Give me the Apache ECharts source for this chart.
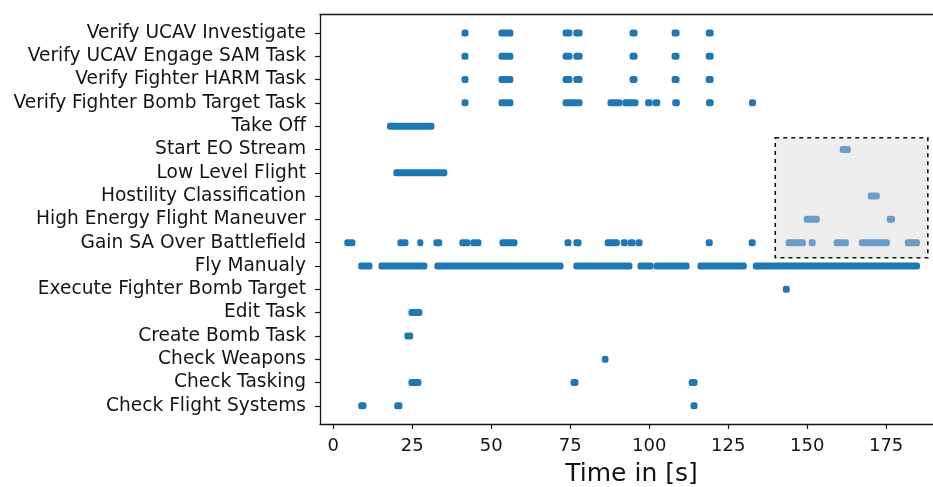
<!DOCTYPE html>
<html>
<head>
<meta charset="utf-8">
<script src="https://cdn.jsdelivr.net/npm/echarts@6/dist/echarts.min.js"></script>
<style>html,body{margin:0;padding:0;background:#fff;}#c{width:933px;height:487px;}</style>
</head>
<body>
<div id="c"></div>
<script>
// Categories, bottom (index 0) to top (index 16)
var categories = [
  'Check Flight Systems',
  'Check Tasking',
  'Check Weapons',
  'Create Bomb Task',
  'Edit Task',
  'Execute Fighter Bomb Target',
  'Fly Manualy',
  'Gain SA Over Battlefield',
  'High Energy Flight Maneuver',
  'Hostility Classification',
  'Low Level Flight',
  'Start EO Stream',
  'Take Off',
  'Verify Fighter Bomb Target Task',
  'Verify Fighter HARM Task',
  'Verify UCAV Engage SAM Task',
  'Verify UCAV Investigate'
];

// Activity intervals per category: [start, end] in seconds
var checkFlightSystems = [[7.9,10.5],[19.3,21.9],[113.1,115.3]];
var checkTasking = [[23.8,27.9],[75.1,77.6],[112.5,115.3]];
var checkWeapons = [[85.0,87.1]];
var createBombTask = [[22.5,25.3]];
var editTask = [[23.8,28.2]];
var executeFighterBombTarget = [[142.3,144.5]];
var flyManualy = [[7.9,12.4],[14.3,29.8],[32.0,72.9],[76.0,94.7],[96.3,101.4],[101.4,112.8],[115.3,130.9],[132.8,185.7]];
var gainSA = [[3.5,7.0],[20.3,23.8],[26.6,28.5],[31.7,34.5],[39.9,43.4],[43.4,46.9],[52.6,58.3],[73.2,75.4],[76.0,78.6],[85.9,90.7],[91.0,93.2],[93.2,95.7],[95.7,97.9],[117.9,120.1],[131.5,133.7],[143.2,149.6],[150.5,152.7],[158.4,163.2],[166.4,176.2],[180.9,185.7]];
var highEnergy = [[148.9,154.0],[175.2,177.8]];
var hostility = [[169.2,173.0]];
var lowLevelFlight = [[19.0,36.1]];
var startEOStream = [[160.3,163.8]];
var takeOff = [[17.0,32.0]];
var verifyFighterBomb = [[40.6,42.8],[52.3,57.0],[72.6,78.9],[86.8,91.5],[91.5,96.6],[98.7,101.1],[101.1,103.5],[107.3,109.7],[118.0,120.4],[131.6,133.8]];
var verifyFighterHARM = [[40.6,42.8],[52.3,57.0],[72.6,75.7],[76.0,78.9],[93.8,96.3],[107.1,109.6],[117.9,120.4]];
var verifyUCAVEngage = [[40.6,42.8],[52.3,57.0],[72.6,75.7],[76.0,78.9],[93.8,96.3],[107.1,109.6],[117.9,120.4]];
var verifyUCAVInvestigate = [[40.6,42.8],[52.3,57.0],[72.6,75.7],[76.0,78.9],[93.8,96.3],[107.1,109.6],[117.9,120.4]];

var rows = [checkFlightSystems, checkTasking, checkWeapons, createBombTask, editTask,
  executeFighterBombTarget, flyManualy, gainSA, highEnergy, hostility, lowLevelFlight,
  startEOStream, takeOff, verifyFighterBomb, verifyFighterHARM, verifyUCAVEngage, verifyUCAVInvestigate];

var xTicks = [0, 25, 50, 75, 100, 125, 150, 175];
// highlighted region: [xStart, xEnd, yBottom, yTop]
var highlightBox = [139.9, 188.2, 6.35, 11.5];

var barData = [];
rows.forEach(function (list, r) {
  list.forEach(function (iv) { barData.push([r, iv[0], iv[1]]); });
});

var yTicks = categories.map(function (c, i) { return i; });
var axisColor = '#151515';

var chart = echarts.init(document.getElementById('c'), null, {renderer: 'canvas'});
chart.setOption({
  animation: false,
  grid: {left: 320, right: -10, top: 14.5, bottom: 63, show: false, containLabel: false, outerBoundsMode: 'none'},
  xAxis: [{
    type: 'value', min: -4.2, max: 193, position: 'bottom',
    axisLine: {show: true, onZero: false, lineStyle: {color: axisColor, width: 1.3}},
    axisTick: {show: true, customValues: xTicks, length: 5, inside: false, lineStyle: {color: axisColor, width: 1.2}},
    axisLabel: {customValues: xTicks, color: axisColor, fontSize: 18, fontFamily: 'DejaVu Sans', margin: 13},
    splitLine: {show: false},
    name: 'Time in [s]', nameLocation: 'middle', nameGap: 38,
    nameTextStyle: {fontSize: 25, color: axisColor, fontFamily: 'DejaVu Sans'}
  }, {
    type: 'value', min: -4.2, max: 193, position: 'top',
    axisLine: {show: true, onZero: false, lineStyle: {color: axisColor, width: 1.3}},
    axisTick: {show: false}, axisLabel: {show: false}, splitLine: {show: false}
  }],
  yAxis: {
    type: 'value', min: -0.78, max: 16.79, position: 'left',
    axisLine: {show: true, onZero: false, lineStyle: {color: axisColor, width: 1.3}},
    axisTick: {show: true, customValues: yTicks, length: 5, lineStyle: {color: axisColor, width: 1.2}},
    axisLabel: {customValues: yTicks, color: axisColor, fontSize: 18.6, fontFamily: 'DejaVu Sans', margin: 14,
      formatter: function (v) { return categories[Math.round(v)]; }},
    splitLine: {show: false}
  },
  series: [
    {
      type: 'custom', z: 1,
      data: [highlightBox],
      encode: {x: [0, 1], y: [2, 3]},
      renderItem: function (params, api) {
        var p0 = api.coord([api.value(0), api.value(3)]);
        var p1 = api.coord([api.value(1), api.value(2)]);
        return {type: 'rect', shape: {x: p0[0], y: p0[1], width: p1[0] - p0[0], height: p1[1] - p0[1]},
          style: {fill: '#ededed', stroke: '#111', lineWidth: 1.6, lineDash: [4, 4]}};
      }
    },
    {
      type: 'custom', z: 2,
      data: barData,
      encode: {x: [1, 2], y: 0},
      renderItem: function (params, api) {
        var r = api.value(0), s = api.value(1), e = api.value(2);
        var p0 = api.coord([s, r]), p1 = api.coord([e, r]);
        var h = 7;
        var inBox = r >= highlightBox[2] && r <= highlightBox[3] && s >= highlightBox[0];
        return {type: 'rect', shape: {x: p0[0], y: p0[1] - h / 2, width: p1[0] - p0[0], height: h, r: 2.5},
          style: {fill: inBox ? '#6b9cc7' : '#1f77b4'}};
      }
    }
  ]
});
</script>
</body>
</html>
